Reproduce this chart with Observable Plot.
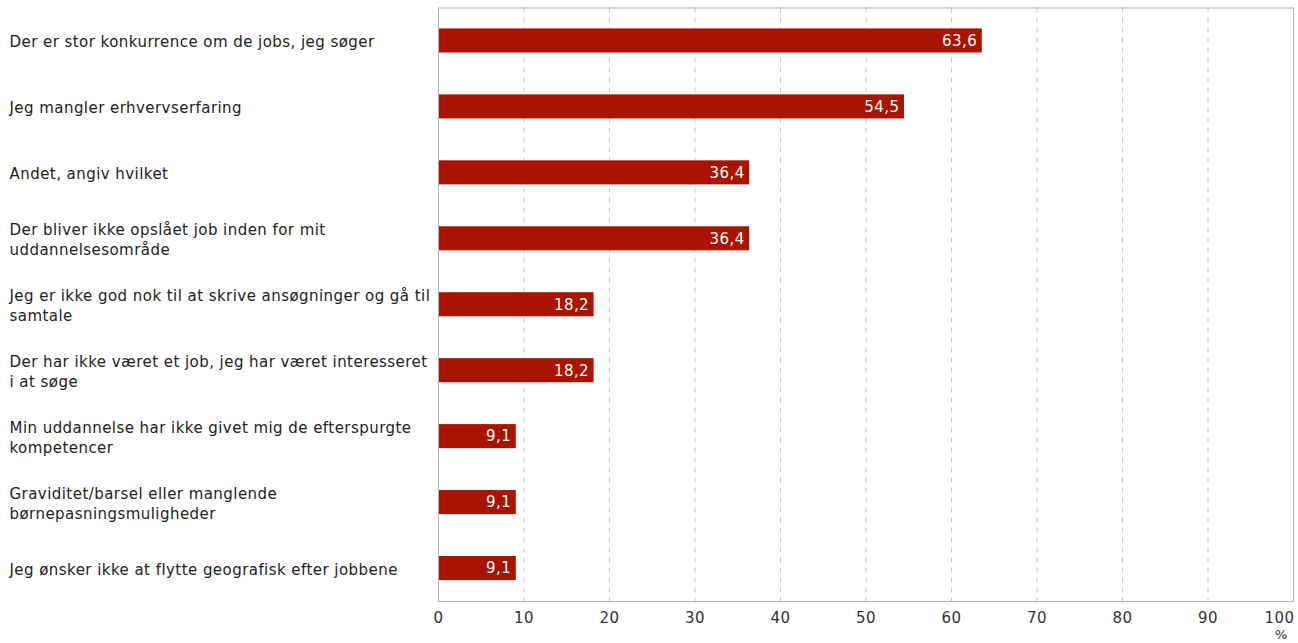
<!DOCTYPE html>
<html>
<head>
<meta charset="utf-8">
<script src="https://cdn.jsdelivr.net/npm/d3@7"></script>
<script src="https://cdn.jsdelivr.net/npm/@observablehq/plot@0.6"></script>
<style>
  html, body { margin: 0; padding: 0; background: #fff; }
  #chart { width: 1298px; height: 643px; }
  #chart text { letter-spacing: 0.45px; }
</style>
</head>
<body>
<div id="chart"></div>
<script>
const categories = [
  "Der er stor konkurrence om de jobs, jeg søger",
  "Jeg mangler erhvervserfaring",
  "Andet, angiv hvilket",
  "Der bliver ikke opslået job inden for mit\nuddannelsesområde",
  "Jeg er ikke god nok til at skrive ansøgninger og gå til\nsamtale",
  "Der har ikke været et job, jeg har været interesseret\ni at søge",
  "Min uddannelse har ikke givet mig de efterspurgte\nkompetencer",
  "Graviditet/barsel eller manglende\nbørnepasningsmuligheder",
  "Jeg ønsker ikke at flytte geografisk efter jobbene"
];
const values = [63.6, 54.5, 36.4, 36.4, 18.2, 18.2, 9.1, 9.1, 9.1];
const xTicks = [0, 10, 20, 30, 40, 50, 60, 70, 80, 90, 100];
const gridTicks = [10, 20, 30, 40, 50, 60, 70, 80, 90];
const unitLabel = "%";

const data = categories.map((c, i) => ({category: c, value: values[i]}));
const fmt = v => v.toFixed(1).replace(".", ",");
const lastTick = xTicks[xTicks.length - 1];

const chart = Plot.plot({
  width: 1298,
  height: 643,
  marginTop: 7.5,
  marginBottom: 42,
  marginLeft: 438,
  marginRight: 5,
  style: {fontFamily: "DejaVu Sans, Verdana, sans-serif", fontSize: "15px", color: "#333", background: "#fff"},
  x: {domain: [0, 100], ticks: xTicks},
  y: {domain: categories, paddingInner: 0.635, paddingOuter: 0.3175, align: 0.5, round: false},
  marks: [
    Plot.ruleX(gridTicks, {stroke: "#c8c8c8", strokeDasharray: "5,5", strokeWidth: 1, strokeOpacity: 1}),
    Plot.barX(data, {x: "value", y: "category", fill: "#a81400"}),
    Plot.text(data, {x: "value", y: "category", text: d => fmt(d.value), textAnchor: "end", dx: -5, fill: "#fff", fontSize: 15}),
    Plot.frame({stroke: "#b4b4b4", strokeWidth: 1}),
    Plot.axisX(xTicks.slice(0, -1), {tickSize: 0, tickPadding: 11, tickFormat: d => String(d), fill: "#333", fontSize: 15, label: null}),
    Plot.axisX([lastTick], {tickSize: 0, tickPadding: 11, textAnchor: "end", dx: 1, tickFormat: d => String(d), fill: "#333", fontSize: 15, label: null}),
    Plot.text([unitLabel], {x: () => lastTick, frameAnchor: "bottom", dy: 37, dx: -12, textAnchor: "middle", fill: "#333", fontSize: 13}),
    Plot.axisY({tickSize: 0, textAnchor: "start", dx: -429, tickPadding: 0, lineHeight: 1.33, fill: "#222", fontSize: 15, label: null, tickFormat: d => d})
  ]
});
document.getElementById("chart").appendChild(chart);
</script>
</body>
</html>
